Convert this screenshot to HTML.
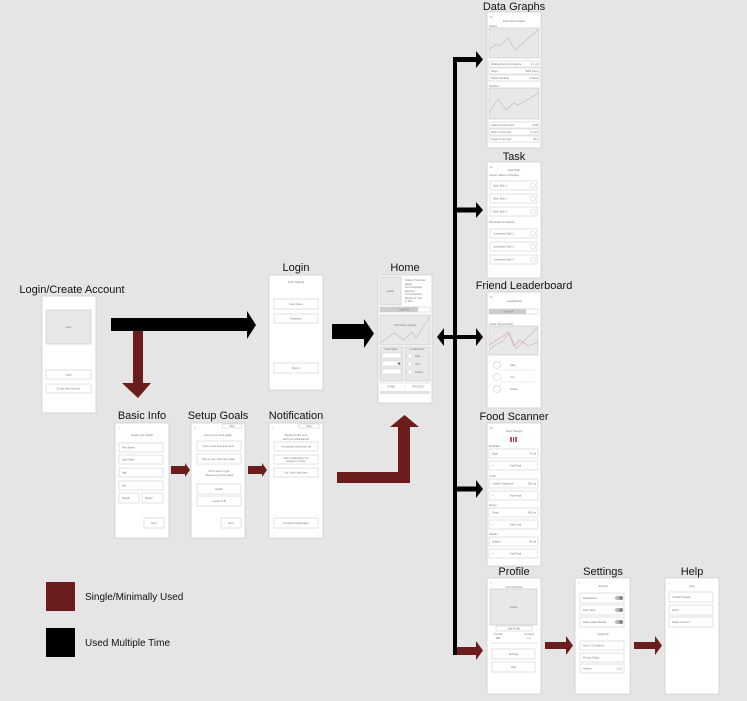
<!DOCTYPE html>
<html><head><meta charset="utf-8"><style>
html,body{margin:0;padding:0;background:#e5e5e5;}
svg{display:block;font-family:"Liberation Sans",sans-serif;}
.s{fill:#fff;stroke:#cfcfcf;stroke-width:0.8}
.b{fill:#fff;stroke:#d6d6d6;stroke-width:0.7}
.g{fill:#e8e8e8;stroke:#cdcdcd;stroke-width:0.7}
.t{font-size:2.6px;fill:#777}
.h{font-size:11px;fill:#111}
.ln{fill:none;stroke:#bbb;stroke-width:0.6}
.r{fill:#6b1c1c}
</style></head><body>
<svg width="747" height="701" viewBox="0 0 747 701">
<rect width="747" height="701" fill="#e5e5e5"/>

<!-- Titles -->
<g class="h" text-anchor="middle">
<text x="72" y="293">Login/Create Account</text>
<text x="296" y="271">Login</text>
<text x="405" y="271">Home</text>
<text x="142" y="419">Basic Info</text>
<text x="218" y="419">Setup Goals</text>
<text x="296" y="419">Notification</text>
<text x="514" y="10">Data Graphs</text>
<text x="514" y="160">Task</text>
<text x="524" y="289">Friend Leaderboard</text>
<text x="514" y="420">Food Scanner</text>
<text x="514" y="575">Profile</text>
<text x="603" y="575">Settings</text>
<text x="692" y="575">Help</text>
</g>

<!-- Login/Create -->
<rect class="s" x="42" y="296" width="54" height="117"/>
<rect class="g" x="46" y="310" width="45" height="34"/>
<text class="t" x="68.5" y="328" text-anchor="middle">Logo</text>
<rect class="b" x="46" y="370" width="45" height="9"/><text class="t" x="68.5" y="375.5" text-anchor="middle">Login</text>
<rect class="b" x="46" y="384" width="45" height="9"/><text class="t" x="68.5" y="389.5" text-anchor="middle">Create New Account</text>

<!-- Login -->
<rect class="s" x="269" y="275" width="54" height="115"/>
<text class="t" x="296" y="283" text-anchor="middle">Food Tracking</text>
<rect class="b" x="274" y="299" width="44" height="10"/><text class="t" x="296" y="305" text-anchor="middle">User Name</text>
<rect class="b" x="274" y="314" width="44" height="9"/><text class="t" x="296" y="319.5" text-anchor="middle">Password</text>
<rect class="b" x="274" y="363" width="44" height="10"/><text class="t" x="296" y="369" text-anchor="middle">Sign In</text>

<!-- Home -->
<rect class="s" x="378" y="275" width="54" height="128"/>
<rect class="g" x="380" y="277" width="21" height="28"/><text class="t" x="390.5" y="292" text-anchor="middle">Avatar</text>
<text class="t" x="405" y="281">Today's Overview</text>
<text class="t" x="405" y="285">Meals</text><text class="t" x="405" y="288">1/3 Completed</text>
<text class="t" x="405" y="292">Exercise</text><text class="t" x="405" y="295">1/3 Completed</text>
<text class="t" x="405" y="299">Meals For next</text><text class="t" x="405" y="302">in 3hrs</text>
<rect class="b" x="380" y="307" width="50" height="5"/><rect x="380" y="307" width="38" height="5" fill="#ccc"/>
<text class="t" x="404" y="310.5" text-anchor="middle">Level 74</text>
<rect class="g" x="380" y="315" width="50" height="30"/>
<polyline class="ln" points="380,343 394,333 404,340 412,332 416,338 430,316"/>
<text class="t" x="405" y="326" text-anchor="middle">Information Display</text>
<rect class="g" x="380" y="347" width="23" height="34"/>
<rect class="g" x="405" y="347" width="25" height="34"/>
<text class="t" x="391" y="350" text-anchor="middle">Goal Tasks</text>
<text class="t" x="417" y="350" text-anchor="middle">Leaderboard</text>
<rect class="b" x="382" y="353" width="19" height="5"/><rect class="b" x="382" y="361" width="19" height="5"/><rect class="b" x="382" y="369" width="19" height="5"/>
<circle cx="399" cy="363.5" r="1.3" fill="#777"/>
<circle cx="410" cy="356" r="2.3" class="b"/><circle cx="410" cy="364" r="2.3" class="b"/><circle cx="410" cy="372" r="2.3" class="b"/>
<text class="t" x="415" y="357">Jake</text><text class="t" x="415" y="365">You</text><text class="t" x="415" y="373">Andrey</text>
<line x1="380" y1="383" x2="430" y2="383" stroke="#ccc" stroke-width="0.6"/>
<text class="t" x="391" y="387.5" text-anchor="middle">HOME</text><text class="t" x="405" y="387.5" text-anchor="middle">|</text><text class="t" x="418" y="387.5" text-anchor="middle">PROFILE</text>
<rect x="380" y="391" width="50" height="3" fill="#e3e3e3"/>

<!-- Basic Info -->
<rect class="s" x="115" y="423" width="54" height="115"/>
<text class="t" x="118" y="429">&lt;</text>
<text class="t" x="142" y="436" text-anchor="middle">Create your Profile!</text>
<rect class="b" x="119" y="443" width="44" height="9"/><text class="t" x="122" y="448.5">First Name</text>
<rect class="b" x="119" y="455" width="44" height="9"/><text class="t" x="122" y="460.5">Last Name</text>
<rect class="b" x="119" y="468" width="44" height="9"/><text class="t" x="122" y="473.5">Age</text>
<rect class="b" x="119" y="481" width="44" height="9"/><text class="t" x="122" y="486.5">Sex</text>
<rect class="b" x="119" y="493" width="20" height="10"/><text class="t" x="122" y="499">Weight</text>
<rect class="b" x="142" y="493" width="21" height="10"/><text class="t" x="145" y="499">Height</text>
<rect class="b" x="144" y="518" width="20" height="10"/><text class="t" x="154" y="524" text-anchor="middle">Next</text>

<!-- Setup Goals -->
<rect class="s" x="191" y="423" width="54" height="115"/>
<text class="t" x="194" y="429">&lt;</text>
<rect class="b" x="222" y="424" width="20" height="4"/><text class="t" x="232" y="427" text-anchor="middle">Skip</text>
<text class="t" x="218" y="436" text-anchor="middle">Let's set up some goals!</text>
<rect class="b" x="197" y="441" width="44" height="10"/><text class="t" x="219" y="447" text-anchor="middle">Type in your long-term goal...</text>
<rect class="b" x="197" y="454" width="44" height="10"/><text class="t" x="219" y="460" text-anchor="middle">Type in your short-term goal...</text>
<text class="t" x="219" y="472" text-anchor="middle">Don't want to type</text>
<text class="t" x="219" y="476" text-anchor="middle">Choose our preset goals</text>
<rect class="b" x="197" y="484" width="44" height="10"/><text class="t" x="219" y="490" text-anchor="middle">Health</text>
<rect class="b" x="197" y="496" width="44" height="10"/><text class="t" x="219" y="502" text-anchor="middle">Loose 5 LB</text>
<rect class="b" x="221" y="518" width="20" height="10"/><text class="t" x="231" y="524" text-anchor="middle">Next</text>

<!-- Notification -->
<rect class="s" x="269" y="423" width="54" height="115"/>
<text class="t" x="272" y="429">&lt;</text>
<rect class="b" x="299" y="424" width="20" height="4"/><text class="t" x="309" y="427" text-anchor="middle">Skip</text>
<text class="t" x="296" y="436" text-anchor="middle">Would you like us to</text>
<text class="t" x="296" y="440" text-anchor="middle">send you notifications?</text>
<rect class="b" x="274" y="442" width="44" height="9"/><text class="t" x="296" y="447.5" text-anchor="middle">Yes please! Send them all</text>
<rect class="b" x="274" y="455" width="44" height="9"/><text class="t" x="296" y="459" text-anchor="middle">Other notifications but</text><text class="t" x="296" y="462" text-anchor="middle">selection of them</text>
<rect class="b" x="274" y="468" width="44" height="9"/><text class="t" x="296" y="473.5" text-anchor="middle">No, I don't like them</text>
<rect class="b" x="274" y="518" width="44" height="10"/><text class="t" x="296" y="524" text-anchor="middle">Complete Registration</text>

<!-- Data Graphs -->
<rect class="s" x="487" y="12" width="54" height="136"/>
<text class="t" x="490" y="18">⌘</text>
<text class="t" x="514" y="22" text-anchor="middle">Information Graphs</text>
<text class="t" x="489" y="27">Activity</text>
<rect class="g" x="489" y="28" width="50" height="30"/>
<polyline class="ln" points="489,50 496,44 500,46 508,38 515,50 539,29"/>
<rect class="b" x="489" y="61" width="50" height="6"/><text class="t" x="491" y="65">Walking/Running Distance</text><text class="t" x="538" y="65" text-anchor="end">2.1 mi</text>
<rect class="b" x="489" y="68" width="50" height="6"/><text class="t" x="491" y="72">Steps</text><text class="t" x="538" y="72" text-anchor="end">5260 steps</text>
<rect class="b" x="489" y="75" width="50" height="6"/><text class="t" x="491" y="79">Flights Climbed</text><text class="t" x="538" y="79" text-anchor="end">0 floors</text>
<text class="t" x="489" y="87">Nutrition</text>
<rect class="g" x="489" y="88" width="50" height="31"/>
<polyline class="ln" points="489,113 498,99 506,110 514,103 518,105 539,93"/>
<rect class="b" x="489" y="122" width="50" height="6"/><text class="t" x="491" y="126">Calories Consumed</text><text class="t" x="538" y="126" text-anchor="end">1,300</text>
<rect class="b" x="489" y="129" width="50" height="6"/><text class="t" x="491" y="133">Water Consumed</text><text class="t" x="538" y="133" text-anchor="end">6 cups</text>
<rect class="b" x="489" y="136" width="50" height="6"/><text class="t" x="491" y="140">Sugar Consumed</text><text class="t" x="538" y="140" text-anchor="end">36 g</text>

<!-- Task -->
<rect class="s" x="487" y="162" width="54" height="116"/>
<text class="t" x="490" y="168">⌘</text>
<text class="t" x="514" y="171" text-anchor="middle">Goal Tasks</text>
<text class="t" x="489" y="176">Current Tasks in Progress</text>
<g>
<rect class="b" x="490" y="181" width="47" height="9"/><text class="t" x="493" y="186.5">Daily Task 1</text><circle cx="533" cy="185.5" r="2.3" class="b"/>
<rect class="b" x="490" y="194" width="47" height="9"/><text class="t" x="493" y="199.5">Daily Task 2</text><circle cx="533" cy="198.5" r="2.3" class="b"/>
<rect class="b" x="490" y="207" width="47" height="9"/><text class="t" x="493" y="212.5">Daily Task 3</text><circle cx="533" cy="211.5" r="2.3" class="b"/>
</g>
<text class="t" x="489" y="223">Previously Completed</text>
<rect class="b" x="490" y="229" width="47" height="9"/><text class="t" x="493" y="234.5">Completed Task 1</text><circle cx="533" cy="233.5" r="2.3" class="b"/>
<rect class="b" x="490" y="242" width="47" height="9"/><text class="t" x="493" y="247.5">Completed Task 2</text><circle cx="533" cy="246.5" r="2.3" class="b"/>
<rect class="b" x="490" y="255" width="47" height="9"/><text class="t" x="493" y="260.5">Completed Task 3</text><circle cx="533" cy="259.5" r="2.3" class="b"/>

<!-- Friend Leaderboard -->
<rect class="s" x="487" y="292" width="54" height="116"/>
<text class="t" x="490" y="298">⌘</text>
<text class="t" x="514" y="302" text-anchor="middle">Leaderboard</text>
<rect class="b" x="489" y="309" width="49" height="5"/><rect x="489" y="309" width="37" height="5" fill="#ccc"/>
<text class="t" x="508" y="312.5" text-anchor="middle">Level 74</text>
<text class="t" x="489" y="325">Leader Board Activity</text>
<rect class="g" x="489" y="326" width="49" height="29"/>
<polyline fill="none" stroke="#e89a9a" stroke-width="0.6" points="489,345 497,340 503,336 508,332 514,346 520,340 528,346 538,342"/>
<polyline class="ln" points="489,350 497,344 503,341 509,333 516,349 538,327"/>
<circle cx="497" cy="365" r="3.5" class="b"/><text class="t" x="510" y="366">Jake</text>
<line x1="500" y1="370" x2="534" y2="370" stroke="#ddd" stroke-width="0.5"/>
<circle cx="497" cy="377" r="3.5" class="b"/><text class="t" x="510" y="378">You</text>
<line x1="500" y1="382" x2="534" y2="382" stroke="#ddd" stroke-width="0.5"/>
<circle cx="497" cy="389" r="3.5" class="b"/><text class="t" x="510" y="390">Andrey</text>

<!-- Food Scanner -->
<rect class="s" x="487" y="423" width="54" height="143"/>
<text class="t" x="490" y="429">⌘</text>
<text class="t" x="514" y="432" text-anchor="middle">Food Tracking</text>
<rect x="510" y="437" width="2" height="5" fill="#b55"/><rect x="513" y="437" width="1" height="5" fill="#555"/><rect x="515" y="437" width="2" height="5" fill="#b55"/>
<text class="t" x="489" y="447">Breakfast</text>
<rect class="b" x="489" y="449" width="49" height="9"/><text class="t" x="492" y="454.5">Eggs</text><text class="t" x="536" y="454.5" text-anchor="end">70 cal</text>
<rect class="b" x="489" y="461" width="49" height="9"/><text class="t" x="492" y="466.5">+</text><text class="t" x="510" y="466.5">Add Food</text>
<text class="t" x="489" y="477">Lunch</text>
<rect class="b" x="489" y="479" width="49" height="9"/><text class="t" x="492" y="484.5">Chicken Sandwich</text><text class="t" x="536" y="484.5" text-anchor="end">300 cal</text>
<rect class="b" x="489" y="491" width="49" height="9"/><text class="t" x="492" y="496.5">+</text><text class="t" x="510" y="496.5">Add Food</text>
<text class="t" x="489" y="506">Dinner</text>
<rect class="b" x="489" y="508" width="49" height="9"/><text class="t" x="492" y="513.5">Steak</text><text class="t" x="536" y="513.5" text-anchor="end">400 cal</text>
<rect class="b" x="489" y="520" width="49" height="9"/><text class="t" x="492" y="525.5">+</text><text class="t" x="510" y="525.5">Add Food</text>
<text class="t" x="489" y="535">Snacks</text>
<rect class="b" x="489" y="537" width="49" height="9"/><text class="t" x="492" y="542.5">Grapes</text><text class="t" x="536" y="542.5" text-anchor="end">90 cal</text>
<rect class="b" x="489" y="549" width="49" height="9"/><text class="t" x="492" y="554.5">+</text><text class="t" x="510" y="554.5">Add Food</text>

<!-- Profile -->
<rect class="s" x="487" y="578" width="54" height="116"/>
<text class="t" x="490" y="584">&lt;</text>
<text class="t" x="514" y="588" text-anchor="middle">Your Nickname</text>
<rect class="g" x="490" y="589" width="47" height="36"/><text class="t" x="513.5" y="608" text-anchor="middle">Avatar</text>
<rect class="b" x="496" y="626" width="36" height="5"/><text class="t" x="514" y="629.5" text-anchor="middle">Edit Profile</text>
<text class="t" x="498" y="635" text-anchor="middle">Friends</text><text class="t" x="498" y="639" text-anchor="middle">###</text>
<text class="t" x="529" y="635" text-anchor="middle">Contacts</text><text class="t" x="529" y="639" text-anchor="middle">[+]</text>
<line x1="490" y1="643" x2="538" y2="643" stroke="#ccc" stroke-width="0.6"/>
<rect class="b" x="492" y="649" width="43" height="10"/><text class="t" x="513.5" y="655" text-anchor="middle">Settings</text>
<rect class="b" x="492" y="662" width="43" height="10"/><text class="t" x="513.5" y="668" text-anchor="middle">Help</text>

<!-- Settings -->
<rect class="s" x="575" y="578" width="55" height="116"/>
<text class="t" x="578" y="584">&lt;</text>
<text class="t" x="603" y="587" text-anchor="middle">Settings</text>
<rect class="b" x="580" y="593" width="44" height="10"/><text class="t" x="583" y="599">Notifications</text><rect x="615" y="596" width="8" height="4" rx="2" fill="#bbb"/><circle cx="621" cy="598" r="2" fill="#888"/>
<rect class="b" x="580" y="605" width="44" height="10"/><text class="t" x="583" y="611">Dark Mode</text><rect x="615" y="608" width="8" height="4" rx="2" fill="#bbb"/><circle cx="621" cy="610" r="2" fill="#888"/>
<rect class="b" x="580" y="617" width="44" height="10"/><text class="t" x="583" y="623">Hide Leader Boards</text><rect x="615" y="620" width="8" height="4" rx="2" fill="#bbb"/><circle cx="621" cy="622" r="2" fill="#888"/>
<text class="t" x="603" y="635" text-anchor="middle">Legal Info</text>
<rect class="b" x="580" y="641" width="44" height="9"/><text class="t" x="583" y="646.5">Term &amp; Conditions</text>
<rect class="b" x="580" y="653" width="44" height="9"/><text class="t" x="583" y="658.5">Privacy Policy</text>
<rect class="b" x="580" y="664" width="44" height="9"/><text class="t" x="583" y="669.5">Version</text><text class="t" x="622" y="669.5" text-anchor="end">1.0.0</text>

<!-- Help -->
<rect class="s" x="665" y="578" width="54" height="116"/>
<text class="t" x="668" y="584">&lt;</text>
<text class="t" x="692" y="587" text-anchor="middle">Help</text>
<rect class="b" x="669" y="592" width="44" height="10"/><text class="t" x="672" y="598">Contact Support</text>
<rect class="b" x="669" y="605" width="44" height="10"/><text class="t" x="672" y="611">FAQ's</text>
<rect class="b" x="669" y="617" width="44" height="10"/><text class="t" x="672" y="623">Delete Account</text>

<!-- Arrows: black -->
<polygon fill="#000" points="111,318 247,318 247,311 256,325 247,339 247,331 111,331"/>
<polygon fill="#000" points="332,324 364,324 364,319 374,333.5 364,348 364,339 332,339"/>
<rect x="453" y="57" width="4" height="598" fill="#000"/>
<polygon fill="#000" points="453,57 476,57 476,51 483,59.5 476,68 476,62 453,62"/>
<polygon fill="#000" points="455,207.5 476,207.5 476,202 483,210 476,218 476,212.5 455,212.5"/>
<polygon fill="#000" points="444,335 476,335 476,328 483,337 476,346 476,339 444,339 444,346 437,337 444,328"/>
<polygon fill="#000" points="455,486.5 476,486.5 476,480 483,489 476,498 476,491.5 455,491.5"/>

<!-- Arrows: red -->
<polygon class="r" points="133,331 143,331 143,383 151,383 138,398 122,383 133,383"/>
<polygon class="r" points="171,466 185,466 185,463 190,470 185,477 185,474 171,474"/>
<polygon class="r" points="248,466 262,466 262,463 267,470 262,477 262,474 248,474"/>
<polygon class="r" points="337,472 398,472 398,427 390,427 404.5,415 419,427 410,427 410,483 337,483"/>
<polygon class="r" points="457,647 476,647 476,641 483,650.5 476,660 476,655 457,655"/>
<polygon class="r" points="545,642 566,642 566,636 573,645.5 566,655 566,649 545,649"/>
<polygon class="r" points="634,642 655,642 655,636 662,645.5 655,655 655,649 634,649"/>

<!-- Legend -->
<rect class="r" x="46" y="582" width="29" height="29"/>
<text x="85" y="600" font-size="10" fill="#111">Single/Minimally Used</text>
<rect fill="#000" x="46" y="628" width="29" height="29"/>
<text x="85" y="646" font-size="10" fill="#111">Used Multiple Time</text>
</svg>
</body></html>
